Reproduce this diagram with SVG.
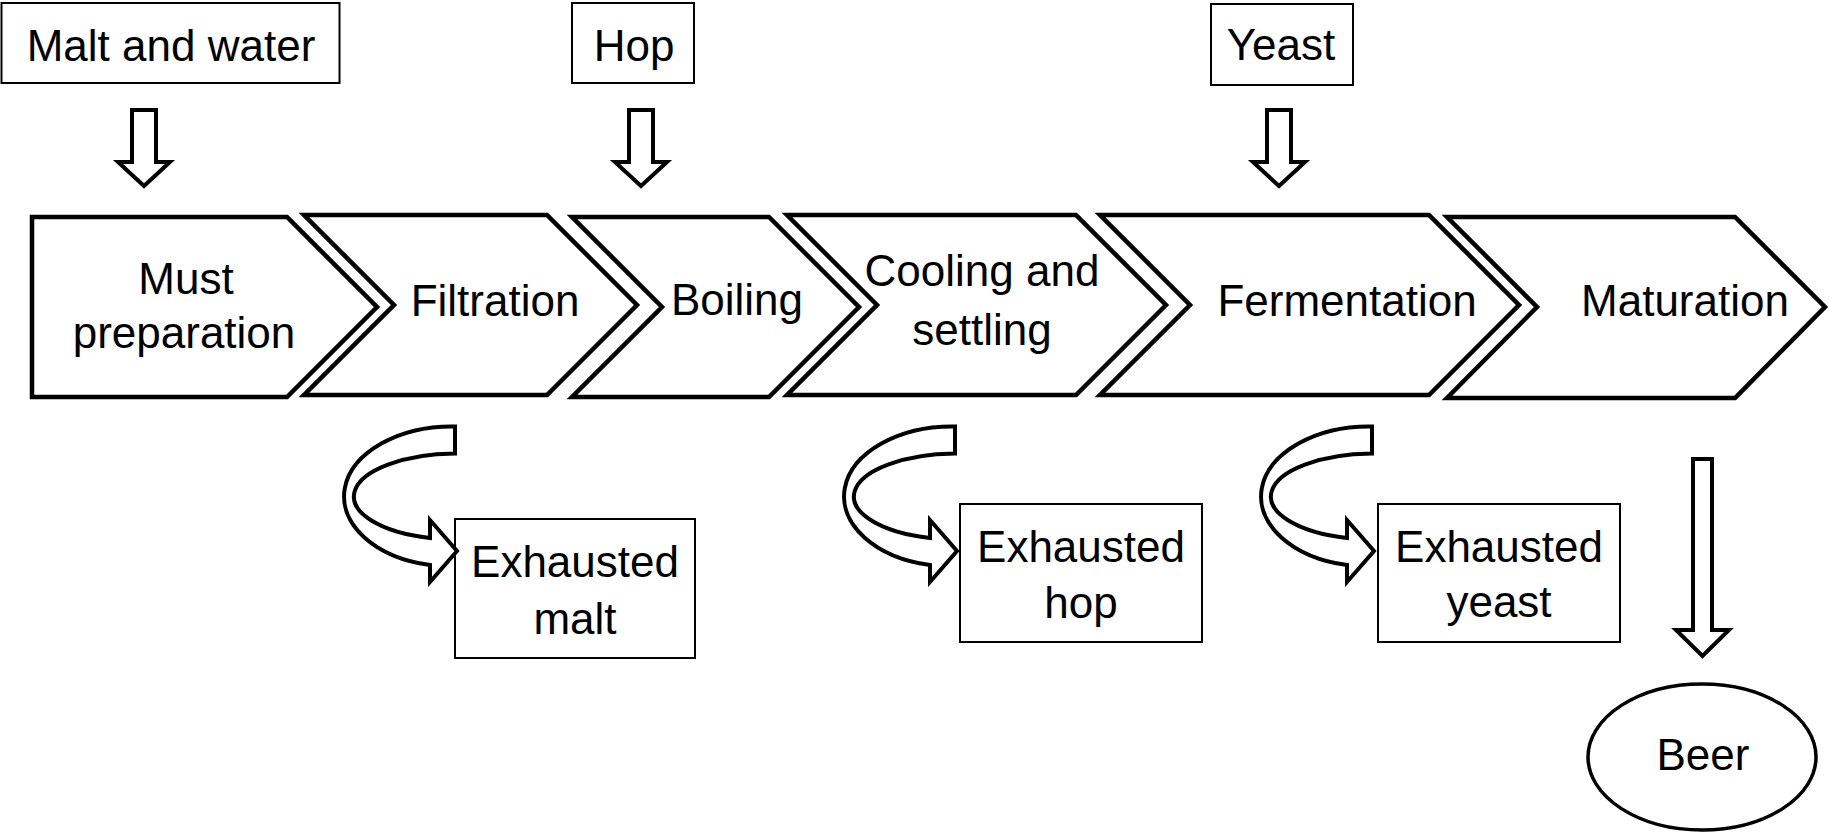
<svg xmlns="http://www.w3.org/2000/svg" xmlns:xlink="http://www.w3.org/1999/xlink" width="1829" height="838" viewBox="0 0 1829 838">
<style>
.t{font-family:"Liberation Sans",Arial,sans-serif;font-size:44px;fill:#000;text-anchor:middle}
.box{fill:#fff;stroke:#000;stroke-width:2}
.chev{fill:#fff;stroke:#000;stroke-width:4.5;stroke-linejoin:miter}
.arr{fill:#fff;stroke:#000;stroke-width:4;stroke-linejoin:miter}
.ell{fill:#fff;stroke:#000;stroke-width:3.5}
</style>
<defs>
<path id="down" d="M-12,0 H12 V52 H26 L0,76 L-26,52 H-12 Z"/>
<path id="curve" d="M455,426.5 A108,70 0 0 0 430,565 L430,582 L457,551 L430,520 L430,538 A103,43 0 0 1 455,453.5 Z"/>
</defs>
<rect width="1829" height="838" fill="#fff"/>

<g id="n-malt-water"><rect class="box" x="1.5" y="3" width="338" height="80"/><text class="t" x="171" y="61">Malt and water</text></g>
<g id="n-hop"><rect class="box" x="572" y="3" width="122" height="80"/><text class="t" x="634" y="61">Hop</text></g>
<g id="n-yeast"><rect class="box" x="1211" y="4" width="142" height="81"/><text class="t" x="1281" y="60">Yeast</text></g>

<g id="n-must"><path class="chev" d="M32,217 H287 L377,307 L287,397 H32 Z"/><text class="t" x="186" y="294">Must</text><text class="t" x="184" y="348">preparation</text></g>
<g id="n-filtration"><path class="chev" d="M304,215 H547 L637,305 L547,395 H304 L394,305 Z"/><text class="t" x="495" y="316">Filtration</text></g>
<g id="n-boiling"><path class="chev" d="M572,217 H769 L859,307 L769,397 H572 L662,307 Z"/><text class="t" x="737" y="315">Boiling</text></g>
<g id="n-cooling"><path class="chev" d="M787,215 H1076 L1166,305 L1076,395 H787 L877,305 Z"/><text class="t" x="982" y="286">Cooling and</text><text class="t" x="982" y="345">settling</text></g>
<g id="n-fermentation"><path class="chev" d="M1100,215 H1429 L1519,305 L1429,395 H1100 L1190,305 Z"/><text class="t" x="1347" y="316">Fermentation</text></g>
<g id="n-maturation"><path class="chev" d="M1447,217 H1735 L1825,307 L1735,398 H1447 L1537,307 Z"/><text class="t" x="1685" y="316">Maturation</text></g>

<g id="n-exh-malt"><rect class="box" x="455" y="519" width="240" height="139"/><text class="t" x="575" y="577">Exhausted</text><text class="t" x="575" y="634">malt</text></g>
<g id="n-exh-hop"><rect class="box" x="960" y="504" width="242" height="138"/><text class="t" x="1081" y="562">Exhausted</text><text class="t" x="1081" y="618">hop</text></g>
<g id="n-exh-yeast"><rect class="box" x="1378" y="504" width="242" height="138"/><text class="t" x="1499" y="562">Exhausted</text><text class="t" x="1499" y="617">yeast</text></g>

<g id="n-beer"><ellipse class="ell" cx="1702" cy="757" rx="114" ry="73"/><text class="t" x="1703" y="770">Beer</text></g>

<g id="connectors">
<use href="#down" xlink:href="#down" class="arr" transform="translate(144,110)"/>
<use href="#down" xlink:href="#down" class="arr" transform="translate(641,110)"/>
<use href="#down" xlink:href="#down" class="arr" transform="translate(1279,110)"/>
<use href="#curve" xlink:href="#curve" class="arr"/>
<use href="#curve" xlink:href="#curve" class="arr" transform="translate(500,0)"/>
<use href="#curve" xlink:href="#curve" class="arr" transform="translate(917,0)"/>
<path class="arr" d="M1693,459 H1712 V630 H1729 L1702.5,656 L1676,630 H1693 Z"/>
</g>
</svg>
